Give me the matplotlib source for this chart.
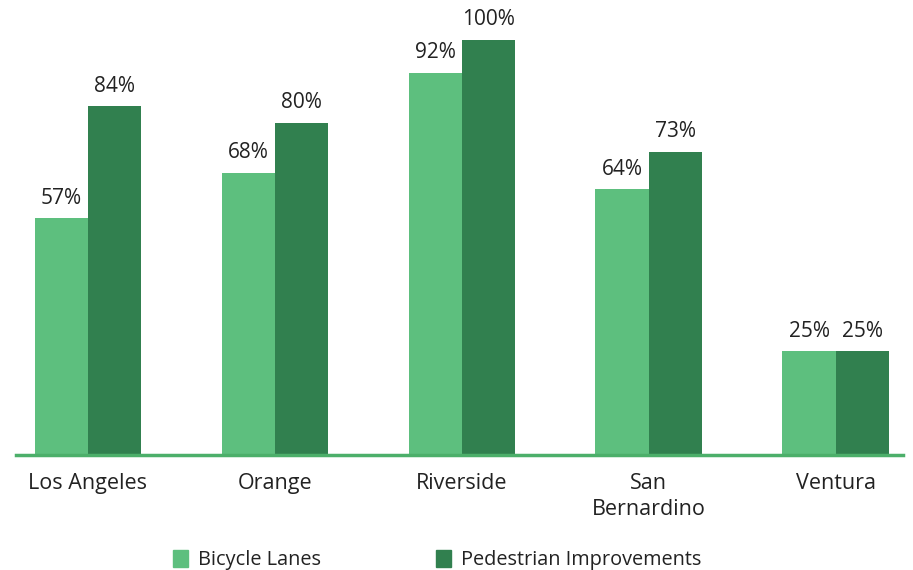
import matplotlib.pyplot as plt
import numpy as np
from matplotlib.patches import Patch

# data
counties = ['Los Angeles', 'Orange', 'Riverside', 'San\nBernardino', 'Ventura']
bicycle = [57, 68, 92, 64, 25]
pedestrian = [84, 80, 100, 73, 25]

light = '#5DBF7E'
dark = '#31804F'
plt.rcParams['font.family'] = ['Open Sans', 'DejaVu Sans']

fig = plt.figure(figsize=(9.13, 5.7), dpi=100)
ax = fig.add_axes([16 / 913, 115 / 570, 887 / 913, 415 / 570])

x = np.arange(len(counties))
w = 0.285
b1 = ax.bar(x - w / 2, bicycle, w, color=light)
b2 = ax.bar(x + w / 2, pedestrian, w, color=dark)

for bars, vals in ((b1, bicycle), (b2, pedestrian)):
    for r, v in zip(bars, vals):
        ax.annotate(f'{v}%', (r.get_x() + r.get_width() / 2, v),
                    xytext=(0, 7), textcoords='offset points',
                    ha='center', va='bottom', fontsize=15, color='#222222',
                    annotation_clip=False)

ax.set_xlim(-0.385, 4.36)
ax.set_ylim(0, 100)
ax.set_xticks(x)
ax.set_xticklabels(counties, fontsize=15.5, color='#222222', linespacing=1.3)
ax.tick_params(axis='x', length=0, pad=13)
ax.set_yticks([])
for s in ('top', 'right', 'left'):
    ax.spines[s].set_visible(False)
ax.spines['bottom'].set_color('#4CAF6A')
ax.spines['bottom'].set_linewidth(2.5)

handles = [Patch(color=light, label='Bicycle Lanes'),
           Patch(color=dark, label='Pedestrian Improvements')]
fig.legend(handles=handles, loc='center', bbox_to_anchor=(437 / 913, 1 - 560 / 570),
           ncol=2, frameon=False, fontsize=14.3, handlelength=0.75, handleheight=0.95,
           handletextpad=0.5, columnspacing=5.8, labelcolor='#222222')

fig.savefig('out.png', dpi=100)
